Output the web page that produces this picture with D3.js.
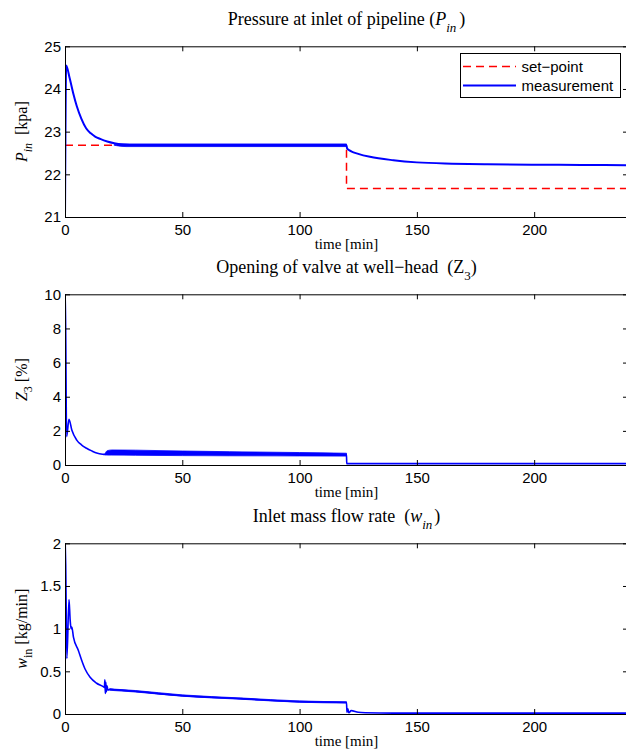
<!DOCTYPE html>
<html>
<head>
<meta charset="utf-8">
<script src="https://cdn.jsdelivr.net/npm/d3@7"></script>
<style>
  body { margin: 0; background: #fff; }
  svg { display: block; }
  .tick text { font-family: "Liberation Sans", Arial, Helvetica, sans-serif; font-size: 15px; fill: #000; }
  .serif { font-family: "Liberation Serif", "Times New Roman", serif; fill: #000; }
</style>
</head>
<body>
<svg id="chart" width="626" height="753"></svg>
<script>
// ---- data ----
const timeTicks = [0, 50, 100, 150, 200]

// panel 1: pressure at inlet
const p1Time = [0, 0.5, 2, 3.5, 5, 7, 9, 11, 13, 15, 18, 21, 25, 30, 120, 120.3, 122, 125, 130, 140, 150, 165, 180, 200, 220, 240]
const p1Meas = [20.9, 24.55, 24.25, 23.9, 23.6, 23.3, 23.08, 22.96, 22.88, 22.83, 22.77, 22.73, 22.70, 22.685, 22.68, 22.6, 22.54, 22.48, 22.41, 22.33, 22.28, 22.25, 22.235, 22.225, 22.22, 22.215]
const p1SetTime = [0, 120, 120, 240]
const p1Set = [22.68, 22.68, 21.67, 21.67]
const p1BandTime = [21, 26, 120]
const p1BandLo = [22.68, 22.65, 22.65]
const p1BandHi = [22.70, 22.712, 22.712]
const p1Ticks = [21, 22, 23, 24, 25]

// panel 2: valve opening
const p2Time = [0, 0.1, 0.7, 1.7, 2.9, 5, 7, 9.2, 11.5, 13.5, 16, 17, 20, 30, 50, 70, 100, 120, 120.1, 150, 200, 240]
const p2Value = [0, 10.5, 1.66, 2.68, 2.05, 1.46, 1.18, 0.98, 0.82, 0.70, 0.63, 0.62, 0.73, 0.72, 0.685, 0.665, 0.63, 0.60, 0.08, 0.08, 0.08, 0.08]
const p2BandTime = [17, 18, 20, 30, 50, 70, 100, 120]
const p2BandLo = [0.6, 0.58, 0.58, 0.57, 0.55, 0.54, 0.53, 0.52]
const p2BandHi = [0.64, 0.84, 0.88, 0.87, 0.82, 0.78, 0.73, 0.69]
const p2Ticks = [0, 2, 4, 6, 8, 10]

// panel 3: inlet mass flow
const p3Time = [0, 0.3, 0.8, 1.7, 2.2, 2.6, 2.9, 3.6, 5.7, 7.1, 8.5, 10.7, 13.5, 16.3, 16.8, 17.0, 17.2, 17.4, 17.6, 17.9, 18.3, 19.2, 21, 27.7, 50, 75, 100, 120, 120.2, 120.6, 121, 122, 125, 128, 140, 240]
const p3Value = [2.1, 1.75, 0.65, 1.34, 1.1, 1.0, 1.02, 0.9, 0.745, 0.63, 0.53, 0.43, 0.36, 0.32, 0.31, 0.40, 0.24, 0.37, 0.26, 0.33, 0.28, 0.29, 0.285, 0.27, 0.215, 0.18, 0.145, 0.135, 0.02, 0.06, 0.015, 0.04, 0.02, 0.015, 0.01, 0.01]
const p3BandTime = [19, 30, 50, 75, 100, 120]
const p3BandLo = [0.278, 0.258, 0.208, 0.173, 0.138, 0.128]
const p3BandHi = [0.295, 0.275, 0.224, 0.188, 0.153, 0.143]
const p3Ticks = [0, 0.5, 1, 1.5, 2]

const legendLabels = ["set\u2212point", "measurement"]

// ---- layout ----
const svg = d3.select("#chart")
const left = 65, right = 628, plotH = 170.7
const tops = [46.3, 294.3, 543.3]
const blue = "#0000ff", red = "#ff0000"

const x = d3.scaleLinear().domain([0, 240]).range([left, right])

function zip(t, v) { return t.map((d, i) => [d, v[i]]) }

function drawPanel(i, yDomain, yTicks, yFormat) {
  const top = tops[i], bottom = top + plotH
  const y = d3.scaleLinear().domain(yDomain).range([bottom, top])
  const g = svg.append("g")

  g.append("defs").append("clipPath").attr("id", "clip" + i)
    .append("rect").attr("x", left).attr("y", top).attr("width", right - left).attr("height", plotH)

  const plot = g.append("g").attr("clip-path", `url(#clip${i})`)

  g.append("g").attr("transform", `translate(0,${bottom})`)
    .call(d3.axisBottom(x).tickValues(timeTicks).tickSize(-5).tickSizeOuter(0).tickPadding(7))
  g.append("g").attr("transform", `translate(0,${top})`)
    .call(d3.axisTop(x).tickValues(timeTicks).tickSize(-5).tickSizeOuter(0).tickFormat(""))
  g.append("g").attr("transform", `translate(${left},0)`)
    .call(d3.axisLeft(y).tickValues(yTicks).tickSize(-5).tickSizeOuter(0).tickPadding(4).tickFormat(yFormat))
  g.append("g").attr("transform", `translate(${right},0)`)
    .call(d3.axisRight(y).tickValues(yTicks).tickSize(-5).tickSizeOuter(0).tickFormat(""))
  g.selectAll(".domain, .tick line").attr("stroke", "#000").attr("stroke-width", 1)

  g.append("text").attr("class", "serif").attr("x", (left + right) / 2).attr("y", bottom + 32)
    .attr("text-anchor", "middle").style("font-size", "15px").text("time [min]")

  return { plot, y, g, top, bottom }
}

function drawBand(p, t, lo, hi) {
  const area = d3.area().x(d => x(d.t)).y0(d => p.y(d.lo)).y1(d => p.y(d.hi)).curve(d3.curveMonotoneX)
  p.plot.append("path").datum(t.map((d, i) => ({ t: d, lo: lo[i], hi: hi[i] })))
    .attr("d", area).attr("fill", blue).attr("stroke", blue).attr("stroke-width", 0.8)
}

function drawLine(p, t, v, width) {
  const line = d3.line().x(d => x(d[0])).y(d => p.y(d[1])).curve(d3.curveMonotoneX)
  p.plot.append("path").datum(zip(t, v)).attr("d", line)
    .attr("fill", "none").attr("stroke", blue).attr("stroke-width", width).attr("stroke-linejoin", "round")
}

function title(p, parts) {
  const t = p.g.append("text").attr("class", "serif").attr("x", (left + right) / 2).attr("y", p.top - 21)
    .attr("text-anchor", "middle").style("font-size", "18px")
  parts(t)
}

function yLabel(p, parts) {
  const t = p.g.append("text").attr("class", "serif").attr("text-anchor", "middle")
    .attr("transform", `translate(27,${(p.top + p.bottom) / 2}) rotate(-90)`).style("font-size", "16px")
  parts(t)
}

// panel 1
const p1 = drawPanel(0, [21, 25], p1Ticks, d3.format("d"))
d3.select(p1.plot.node()).append("path")
  .datum(zip(p1SetTime, p1Set))
  .attr("d", d3.line().x(d => x(d[0])).y(d => p1.y(d[1])))
  .attr("fill", "none").attr("stroke", red).attr("stroke-width", 1.5).attr("stroke-dasharray", "8,5")
drawBand(p1, p1BandTime, p1BandLo, p1BandHi)
drawLine(p1, p1Time, p1Meas, 2)
title(p1, t => {
  t.append("tspan").text("Pressure at inlet of pipeline (")
  t.append("tspan").style("font-style", "italic").text("P")
  t.append("tspan").style("font-style", "italic").style("font-size", "13px").attr("dy", 7).text("in")
  t.append("tspan").attr("dy", -7).attr("dx", 3).text(")")
})
yLabel(p1, t => {
  t.append("tspan").style("font-style", "italic").text("P")
  t.append("tspan").style("font-style", "italic").style("font-size", "12px").attr("dy", 5).text("in")
  t.append("tspan").attr("dy", -5).text("\u00a0\u00a0[kpa]")
})

// legend
const leg = p1.g.append("g")
leg.append("rect").attr("x", 460.5).attr("y", 53.5).attr("width", 160).attr("height", 44)
  .attr("fill", "#fff").attr("stroke", "#000").attr("stroke-width", 1)
leg.selectAll("line").data(legendLabels).join("line")
  .attr("x1", 463).attr("x2", 516)
  .attr("y1", (d, i) => 66.5 + i * 19).attr("y2", (d, i) => 66.5 + i * 19)
  .attr("stroke", (d, i) => i === 0 ? red : blue)
  .attr("stroke-width", (d, i) => i === 0 ? 1.5 : 2)
  .attr("stroke-dasharray", (d, i) => i === 0 ? "8,5" : null)
leg.selectAll("text").data(legendLabels).join("text")
  .attr("x", 521.5).attr("y", (d, i) => 71.5 + i * 19)
  .style("font-family", "'Liberation Sans', Arial, sans-serif").style("font-size", "15px")
  .text(d => d)

// panel 2
const p2 = drawPanel(1, [0, 10], p2Ticks, d3.format("d"))
drawBand(p2, p2BandTime, p2BandLo, p2BandHi)
drawLine(p2, p2Time, p2Value, 1.6)
title(p2, t => {
  t.append("tspan").text("Opening of valve at well\u2212head\u00a0 (Z")
  t.append("tspan").style("font-size", "13px").attr("dy", 7).text("3")
  t.append("tspan").attr("dy", -7).text(")")
})
yLabel(p2, t => {
  t.append("tspan").style("font-style", "italic").text("Z")
  t.append("tspan").style("font-size", "12px").attr("dy", 5).text("3")
  t.append("tspan").attr("dy", -5).text(" [%]")
})

// panel 3
const p3 = drawPanel(2, [0, 2], p3Ticks, d => d3.format("")(d))
drawBand(p3, p3BandTime, p3BandLo, p3BandHi)
drawLine(p3, p3Time, p3Value, 1.6)
title(p3, t => {
  t.append("tspan").text("Inlet mass flow rate\u00a0 (")
  t.append("tspan").style("font-style", "italic").text("w")
  t.append("tspan").style("font-style", "italic").style("font-size", "13px").attr("dy", 7).text("in")
  t.append("tspan").attr("dy", -7).attr("dx", 2).text(")")
})
yLabel(p3, t => {
  t.append("tspan").style("font-style", "italic").text("w")
  t.append("tspan").style("font-size", "12px").attr("dy", 5).text("in")
  t.append("tspan").attr("dy", -5).text(" [kg/min]")
})
</script>
</body>
</html>
